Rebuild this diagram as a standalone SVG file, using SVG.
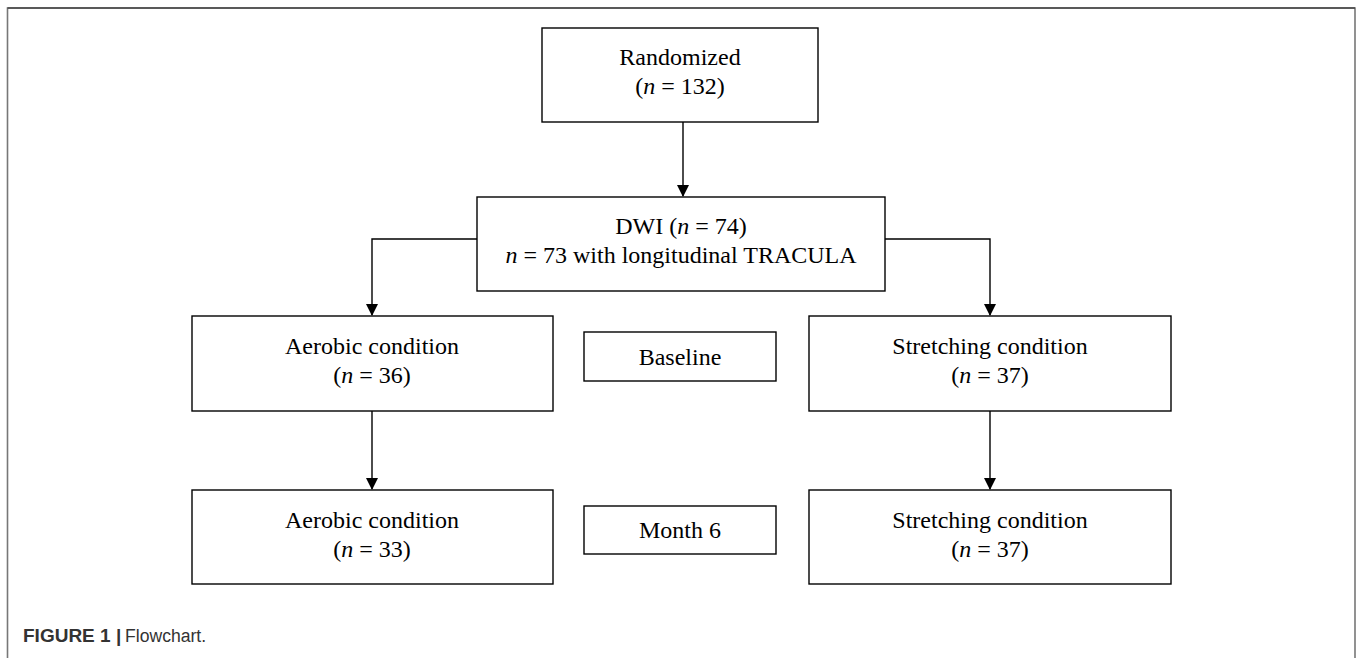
<svg xmlns="http://www.w3.org/2000/svg" width="1357" height="658" viewBox="0 0 1357 658">
<style>
.box{fill:#fff;stroke:#000;stroke-width:1.4}
.t{font-family:"Liberation Serif","Times New Roman",serif;font-size:24px;fill:#000;text-anchor:middle}
.c{fill:none;stroke:#000;stroke-width:1.4}
.cap{font-family:"Liberation Sans",Arial,sans-serif;font-size:19px;fill:#333}
</style>
<defs>
<marker id="ah" markerWidth="12" markerHeight="12" refX="11" refY="6" orient="auto" markerUnits="userSpaceOnUse">
<path d="M0,0 L12,6 L0,12 Z" fill="#000"/>
</marker>
</defs>
<rect width="1357" height="658" fill="#fff"/>
<g id="frame">
<path d="M7.5,660 V8 H1355 V660" fill="none" stroke="#777" stroke-width="1.6"/>
<path d="M7.5,8 H1355" fill="none" stroke="#444" stroke-width="1.6"/>
</g>
<g id="connectors">
<path class="c" d="M683,122 V196" marker-end="url(#ah)"/>
<path class="c" d="M477,239 H372 V315" marker-end="url(#ah)"/>
<path class="c" d="M885,239 H990 V315" marker-end="url(#ah)"/>
<path class="c" d="M372,411 V489" marker-end="url(#ah)"/>
<path class="c" d="M990,411 V489" marker-end="url(#ah)"/>
</g>
<g id="randomized">
<rect class="box" x="542" y="28" width="276" height="94"/>
<text class="t" x="680" y="65">Randomized</text>
<text class="t" x="680" y="94">(<tspan font-style="italic">n</tspan> = 132)</text>
</g>
<g id="dwi">
<rect class="box" x="477" y="197" width="408" height="94"/>
<text class="t" x="681" y="234">DWI (<tspan font-style="italic">n</tspan> = 74)</text>
<text class="t" x="681" y="263"><tspan font-style="italic">n</tspan> = 73 with longitudinal TRACULA</text>
</g>
<g id="aerobic-baseline">
<rect class="box" x="192" y="316" width="361" height="95"/>
<text class="t" x="372" y="354">Aerobic condition</text>
<text class="t" x="372" y="383">(<tspan font-style="italic">n</tspan> = 36)</text>
</g>
<g id="baseline">
<rect class="box" x="584" y="332" width="192" height="49"/>
<text class="t" x="680" y="365">Baseline</text>
</g>
<g id="stretching-baseline">
<rect class="box" x="809" y="316" width="362" height="95"/>
<text class="t" x="990" y="354">Stretching condition</text>
<text class="t" x="990" y="383">(<tspan font-style="italic">n</tspan> = 37)</text>
</g>
<g id="aerobic-month6">
<rect class="box" x="192" y="490" width="361" height="94"/>
<text class="t" x="372" y="528">Aerobic condition</text>
<text class="t" x="372" y="557">(<tspan font-style="italic">n</tspan> = 33)</text>
</g>
<g id="month6">
<rect class="box" x="584" y="506" width="192" height="48"/>
<text class="t" x="680" y="538">Month 6</text>
</g>
<g id="stretching-month6">
<rect class="box" x="809" y="490" width="362" height="94"/>
<text class="t" x="990" y="528">Stretching condition</text>
<text class="t" x="990" y="557">(<tspan font-style="italic">n</tspan> = 37)</text>
</g>
<g id="caption">
<text class="cap" x="23" y="642"><tspan font-weight="bold">FIGURE 1</tspan><tspan x="116" font-weight="bold">|</tspan><tspan x="125" font-size="17.6">Flowchart.</tspan></text>
</g>
</svg>
